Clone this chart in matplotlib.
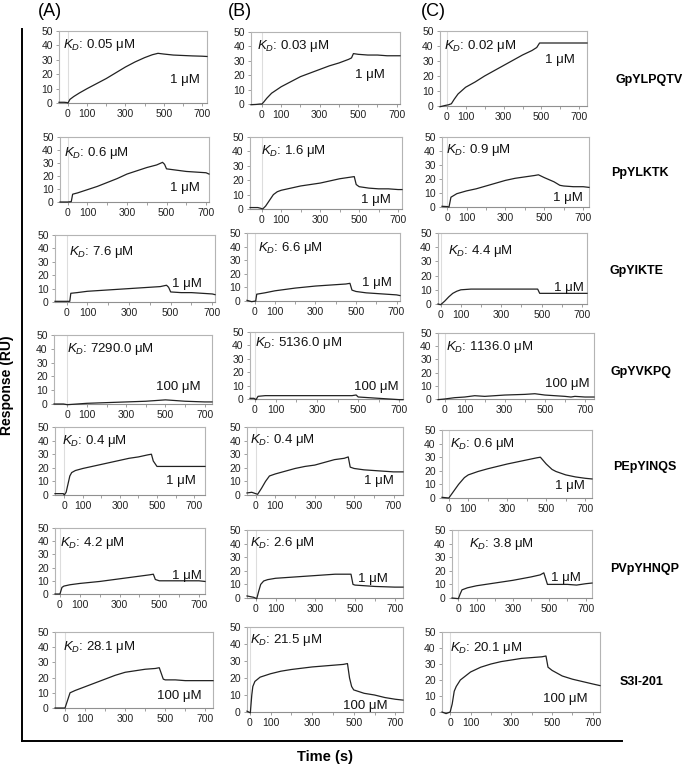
import matplotlib
matplotlib.use("Agg")
import matplotlib.pyplot as plt
from matplotlib.lines import Line2D

plt.rcParams['font.family'] = ['Liberation Sans', 'DejaVu Sans']
plt.rcParams['mathtext.fontset'] = 'custom'
plt.rcParams['mathtext.it'] = 'Liberation Sans:italic'
plt.rcParams['mathtext.rm'] = 'Liberation Sans'

# ---------------- data ----------------
peptides = ["GpYLPQTV", "PpYLKTK", "GpYIKTE", "GpYVKPQ", "PEpYINQS", "PVpYHNQP", "S3I-201"]
columns = ["(A)", "(B)", "(C)"]
kd_A = ["0.05", "0.6", "7.6", "7290.0", "0.4", "4.2", "28.1"]
kd_B = ["0.03", "1.6", "6.6", "5136.0", "0.4", "2.6", "21.5"]
kd_C = ["0.02", "0.9", "4.4", "1136.0", "0.6", "3.8", "20.1"]
concentration = ["1 μM", "1 μM", "1 μM", "100 μM", "1 μM", "1 μM", "100 μM"]
y_ticks = [0, 10, 20, 30, 40, 50]
x_ticks = [0, 100, 200, 300, 400, 500, 600, 700]
x_tick_labels = ["0", "100", "", "300", "", "500", "", "700"]

# row 1 GpYLPQTV
t_A1 = [-47, -20, -5, 0, 10, 30, 60, 100, 150, 200, 250, 300, 350, 400, 440, 470, 500, 550, 600, 650, 700, 726]
r_A1 = [0.5, 0.5, 0.3, 0, 2.5, 4.5, 7, 10, 13.5, 17, 21, 25, 28.5, 31.5, 33.5, 34.5, 34, 33.3, 33, 32.7, 32.5, 32.3]
t_B1 = [-57, -30, -10, 0, 10, 25, 50, 100, 150, 200, 250, 300, 350, 400, 450, 465, 475, 500, 550, 600, 650, 700, 717]
r_B1 = [-0.5, -0.3, 0, 0, 1.5, 4, 7.5, 12, 15.5, 19, 21.5, 24, 26.5, 28.5, 31, 32, 35, 34.5, 34, 34, 33.5, 33.5, 33.5]
t_C1 = [-35, -10, 10, 25, 40, 60, 100, 150, 200, 250, 300, 350, 400, 450, 475, 490, 500, 550, 600, 650, 700, 740]
r_C1 = [-0.5, 0.3, 0.8, 1.5, 4.5, 8, 12.5, 16, 20, 23.5, 27, 30.5, 34, 37, 39, 42, 42, 42, 42, 42, 42, 42]
# row 2 PpYLKTK
t_A2 = [-39, 0, 18, 25, 50, 100, 150, 200, 250, 300, 350, 400, 450, 480, 490, 500, 550, 600, 650, 700, 715]
r_A2 = [0, 0, 0.3, 6, 7, 9.5, 12, 15, 18, 21.5, 24, 26.5, 28.5, 30.5, 29, 25.5, 24.5, 23.5, 23, 22.5, 21.5]
t_B2 = [-60, -20, -5, 5, 20, 40, 60, 80, 100, 150, 200, 250, 300, 350, 400, 450, 475, 485, 500, 550, 600, 650, 700, 720]
r_B2 = [1, 1, 0.5, 0, 2, 6, 10, 12, 13, 14.5, 16, 17, 18, 19.5, 21, 22, 22.5, 17, 15.5, 14.5, 14, 14, 13.5, 13.5]
t_C2 = [-26, 0, 10, 20, 50, 100, 150, 200, 250, 300, 350, 400, 450, 470, 500, 550, 580, 600, 650, 700, 730]
r_C2 = [0.5, 0.3, 0, 7, 9.5, 11.5, 13, 15, 17, 19, 20.5, 21.5, 22.5, 23, 21, 18, 15.5, 15, 14.5, 14.5, 14]
# row 3 GpYIKTE
t_A3 = [-56, 0, 15, 20, 50, 100, 200, 300, 400, 450, 480, 490, 500, 550, 600, 650, 700, 713]
r_A3 = [0.5, 0.5, 0.5, 6.5, 7, 8, 9, 10, 11, 11.5, 12.5, 11, 7.5, 7, 7, 6.5, 6, 5.5]
t_B3 = [-38, -15, 5, 10, 50, 100, 200, 300, 400, 450, 470, 480, 500, 550, 600, 650, 700, 717]
r_B3 = [0.5, -0.5, 0, 5, 6, 7.5, 9.5, 11, 12, 12.5, 13, 8, 7, 6, 5.5, 5, 4.5, 4]
t_C3 = [-13, 0, 20, 40, 60, 80, 100, 150, 200, 300, 400, 480, 490, 500, 600, 700, 724]
r_C3 = [0, -0.5, 2, 5, 7.5, 9, 10, 10.5, 10.5, 10.5, 10.5, 10.5, 7.5, 7.5, 7.5, 7.5, 7.5]
# row 4 GpYVKPQ
t_A4 = [-68, -20, 0, 50, 100, 200, 300, 400, 500, 550, 600, 700, 737]
r_A4 = [0, 0, -0.5, 0, 0.5, 1, 1.5, 2, 3, 2.5, 2, 1.5, 1.5]
t_B4 = [-24, -5, 5, 15, 50, 100, 200, 300, 400, 470, 490, 500, 550, 600, 650, 700, 717]
r_B4 = [0.5, 0.5, -0.5, 2, 2.5, 2.5, 2.5, 2.5, 2.5, 2.5, 3, 1.5, 1, 0.5, 0, -0.5, -0.5]
t_C4 = [-33, 0, 50, 100, 150, 200, 300, 400, 450, 500, 550, 600, 630, 650, 700, 745]
r_C4 = [-0.5, 0, 1, 1.5, 2.5, 2, 3, 3.5, 4, 3, 2.5, 2, 1.5, 2, 1.5, 1.5]
# row 5 PEpYINQS
t_A5 = [-50, -5, 0, 10, 20, 30, 40, 60, 100, 150, 200, 250, 300, 350, 400, 450, 470, 480, 500, 550, 600, 700, 759]
r_A5 = [1, 1, 0, 2, 8, 14, 16.5, 18, 19.5, 21, 22.5, 24, 25.5, 27, 28, 29.5, 30, 25, 21, 21, 21, 21, 21]
t_B5 = [-44, -20, 0, 10, 30, 50, 70, 100, 150, 200, 250, 300, 350, 400, 450, 470, 480, 500, 550, 600, 650, 700, 748]
r_B5 = [1.5, 2, 1, 0.5, 5, 10, 14, 15.5, 17.5, 19.5, 21, 22, 24, 26, 27, 28, 20.5, 19.5, 18.5, 18, 17.5, 17, 17]
t_C5 = [-35, 0, 20, 50, 80, 100, 150, 200, 300, 400, 450, 470, 500, 530, 550, 600, 650, 700, 735]
r_C5 = [0.5, 0, 4, 10, 15, 17, 19.5, 21.5, 25, 28, 29.5, 30, 25, 21, 19.5, 17, 15.5, 14.5, 14]
# row 6 PVpYHNQP
t_A6 = [-25, 0, 10, 20, 50, 100, 200, 300, 400, 450, 470, 480, 500, 600, 700, 730]
r_A6 = [0, 0, 5, 6, 7, 8, 9.5, 11.5, 13.5, 14.5, 15, 11, 10, 10, 10, 9.5]
t_B6 = [-44, -10, 5, 15, 25, 40, 60, 100, 200, 300, 400, 450, 480, 490, 500, 550, 600, 700, 742]
r_B6 = [1.5, 0.5, -0.5, 5, 10, 12.5, 13.5, 14.5, 15.5, 16.5, 17.5, 17.5, 17.5, 10, 9.5, 9, 8.5, 8, 8]
t_C6 = [-35, 0, 10, 20, 50, 100, 200, 300, 400, 450, 470, 490, 500, 600, 650, 700, 735]
r_C6 = [0, -0.5, 3, 6, 7.5, 9, 11, 13, 15.5, 17, 18.5, 10, 10, 10, 9.5, 10.5, 11]
# row 7 S3I-201
t_A7 = [-50, 0, 25, 50, 100, 150, 200, 250, 300, 350, 400, 450, 470, 490, 500, 550, 600, 700, 738]
r_A7 = [0, 0, 10, 11.5, 14, 16.5, 19, 21.5, 23.5, 24.5, 25.5, 26, 26.5, 19, 18.5, 18.5, 18, 18, 18]
t_B7 = [-13, -5, 3, 10, 15, 25, 50, 100, 150, 200, 300, 400, 450, 470, 480, 490, 500, 550, 600, 650, 700, 737]
r_B7 = [0.5, 0, -0.5, 10, 15, 18, 20.5, 22.5, 24, 25, 26.5, 27.5, 28, 28.5, 20, 15, 13, 11, 10, 8.5, 7.5, 7]
t_C7 = [-40, -20, 0, 10, 20, 30, 50, 100, 150, 200, 250, 300, 350, 400, 450, 470, 480, 500, 550, 600, 650, 700, 735]
r_C7 = [0, -1, 0, 5, 13, 16, 20, 25, 28, 30, 31.5, 32.5, 33.5, 34, 34.5, 35, 28, 26, 22.5, 20.5, 19, 17.5, 16.5]

curves = [
    [(t_A1, r_A1), (t_B1, r_B1), (t_C1, r_C1)],
    [(t_A2, r_A2), (t_B2, r_B2), (t_C2, r_C2)],
    [(t_A3, r_A3), (t_B3, r_B3), (t_C3, r_C3)],
    [(t_A4, r_A4), (t_B4, r_B4), (t_C4, r_C4)],
    [(t_A5, r_A5), (t_B5, r_B5), (t_C5, r_C5)],
    [(t_A6, r_A6), (t_B6, r_B6), (t_C6, r_C6)],
    [(t_A7, r_A7), (t_B7, r_B7), (t_C7, r_C7)],
]
kds = [kd_A, kd_B, kd_C]

# ---------------- layout (pixels) ----------------
W, H = 685, 767
# frames: (left, right, top, bottom) in px
frames = [
    [(59, 207, 31, 103), (251, 400, 32, 104), (440, 587, 31, 106)],
    [(60, 209, 137, 202), (250, 402, 137, 209), (442, 589, 137, 207)],
    [(55, 215, 235, 302), (247, 400, 233, 301), (438, 587, 233, 304)],
    [(54, 212, 335, 404), (250, 403, 332, 399), (438, 594, 333, 399)],
    [(55, 205, 427, 495), (247, 403, 427, 495), (442, 592, 430, 498)],
    [(55, 205, 528, 594), (247, 403, 530, 598), (452, 592, 530, 598)],
    [(55, 213, 632, 708), (247, 403, 627, 712), (442, 600, 632, 712)],
]
xlims = [
    [(-47, 726), (-57, 717), (-35, 740)],
    [(-39, 715), (-60, 720), (-26, 730)],
    [(-56, 713), (-38, 717), (-13, 724)],
    [(-68, 737), (-24, 717), (-33, 745)],
    [(-50, 759), (-44, 748), (-35, 735)],
    [(-25, 730), (-44, 742), (-35, 735)],
    [(-50, 738), (-13, 737), (-40, 735)],
]
# (kd_x, kd_y, conc_right_x, conc_y) in axes fraction
labels_pos = [
    [(0.03, 0.80, 0.95, 0.32), (0.04, 0.81, 0.90, 0.40), (0.03, 0.80, 0.92, 0.61)],
    [(0.03, 0.75, 0.94, 0.22), (0.07, 0.80, 0.93, 0.13), (0.03, 0.81, 0.96, 0.13)],
    [(0.09, 0.75, 0.92, 0.27), (0.07, 0.78, 0.95, 0.27), (0.07, 0.74, 0.98, 0.23)],
    [(0.08, 0.80, 0.93, 0.25), (0.03, 0.84, 0.97, 0.18), (0.05, 0.79, 0.97, 0.23)],
    [(0.045, 0.80, 0.94, 0.20), (0.02, 0.81, 0.94, 0.21), (0.05, 0.80, 0.95, 0.17)],
    [(0.03, 0.77, 0.98, 0.27), (0.02, 0.81, 0.90, 0.28), (0.12, 0.80, 0.92, 0.30)],
    [(0.05, 0.80, 0.93, 0.16), (0.02, 0.85, 0.90, 0.07), (0.05, 0.80, 0.92, 0.16)],
]
row_label_pos = [(649, 80), (640, 173), (637, 271), (641, 372), (645, 467), (645, 569), (642, 682)]
col_label_pos = [(50, 11), (240, 11), (433, 11)]

fig = plt.figure(figsize=(W / 100, H / 100), dpi=100)
frame_col = "#b4b4b4"

for i in range(7):
    for j in range(3):
        l, r, t, b = frames[i][j]
        ax = fig.add_axes([l / W, 1 - b / H, (r - l) / W, (b - t) / H])
        tt, rr = curves[i][j]
        ax.axvline(0, color="#dddddd", lw=0.8, zorder=1)
        ax.plot(tt, rr, color="#222222", lw=0.9, clip_on=False, zorder=3)
        ax.set_xlim(*xlims[i][j])
        ax.set_ylim(0, 50)
        ax.set_yticks(y_ticks)
        ax.set_xticks(x_ticks)
        ax.set_xticklabels(x_tick_labels)
        for s in ax.spines.values():
            s.set_color(frame_col)
            s.set_linewidth(0.8)
        ax.spines['bottom'].set_color("#909090")
        ax.tick_params(axis='both', labelsize=7.5, colors="#909090", labelcolor="#222222",
                       length=2.5, width=0.6, pad=2)
        kx, ky, cx, cy = labels_pos[i][j]
        ax.text(kx, ky, r"$K_D$: " + kds[j][i] + " μM", transform=ax.transAxes,
                fontsize=9.5, ha="left", va="center", color="#111111")
        ax.text(cx, cy, concentration[i], transform=ax.transAxes,
                fontsize=9.5, ha="right", va="center", color="#111111")

for (x, y), name in zip(row_label_pos, peptides):
    fig.text(x / W, 1 - y / H, name, fontsize=9, fontweight="bold", ha="center", va="center")
for (x, y), name in zip(col_label_pos, columns):
    fig.text(x / W, 1 - y / H, name, fontsize=13, ha="center", va="center")

fig.add_artist(Line2D([22 / W, 22 / W], [1 - 29 / H, 1 - 741 / H], color="black", lw=1.4))
fig.add_artist(Line2D([22 / W, 622 / W], [1 - 741 / H, 1 - 741 / H], color="black", lw=1.4))
fig.text(7 / W, 1 - 385 / H, "Response (RU)", rotation=90, fontsize=10, fontweight="bold",
         ha="center", va="center")
fig.text(325 / W, 1 - 757 / H, "Time (s)", fontsize=10.5, fontweight="bold", ha="center", va="center")

fig.savefig("out.png", dpi=100)
